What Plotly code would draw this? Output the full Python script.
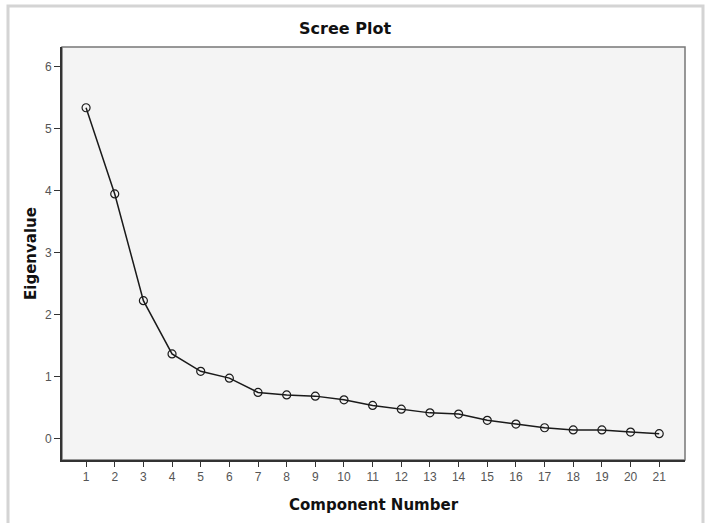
import plotly.graph_objects as go

components = list(range(1, 22))
eigenvalues = [5.34, 3.95, 2.23, 1.37, 1.09, 0.98, 0.75, 0.71, 0.69, 0.63,
               0.54, 0.48, 0.42, 0.40, 0.30, 0.24, 0.18, 0.145, 0.145, 0.11, 0.085]
y_ticks = [0, 1, 2, 3, 4, 5, 6]

FONT = "Liberation Sans, Arial, sans-serif"
BOLD = "DejaVu Sans, Verdana, sans-serif"

fig = go.Figure()
fig.add_trace(go.Scatter(
    x=components, y=eigenvalues, mode="lines+markers",
    line=dict(color="#1a1a1a", width=1.5),
    marker=dict(symbol="circle-open", size=8, color="#1a1a1a", line=dict(width=1.2)),
    showlegend=False,
))

fig.update_layout(
    width=707, height=523,
    margin=dict(l=62, r=22, t=47, b=63),
    paper_bgcolor="white",
    plot_bgcolor="#f4f4f4",
    font=dict(family=FONT, color="#333"),
    title=dict(text="<b>Scree Plot</b>", x=0.488, xanchor="center",
               y=1 - 28 / 523, yanchor="middle",
               font=dict(family=BOLD, size=16, color="#111")),
    xaxis=dict(
        range=[0.16, 21.9], tickmode="array", tickvals=components,
        ticks="outside", ticklen=5, tickcolor="#333", tickwidth=1.2,
        showgrid=False, zeroline=False,
        showline=True, linecolor="#333", linewidth=2,
        tickfont=dict(size=12, color="#555"),
        title=dict(text="<b>Component Number</b>", standoff=16,
                   font=dict(family=BOLD, size=15, color="#111")),
    ),
    yaxis=dict(
        range=[-0.34, 6.32], tickmode="array", tickvals=y_ticks,
        ticks="outside", ticklen=6, tickcolor="#333", tickwidth=1.2,
        showgrid=False, zeroline=False,
        showline=True, linecolor="#333", linewidth=2,
        tickfont=dict(size=12, color="#555"),
        title=dict(text="<b>Eigenvalue</b>", standoff=5,
                   font=dict(family=BOLD, size=15, color="#111")),
    ),
    shapes=[
        dict(type="rect", xref="paper", yref="paper", x0=0, x1=1, y0=0, y1=1,
             line=dict(color="#777", width=1.5), layer="below"),
        dict(type="rect", xref="paper", yref="paper",
             x0=(8 - 62) / 623, x1=(703 - 62) / 623,
             y0=(460 - 530) / 413, y1=(460 - 6) / 413,
             line=dict(color="#d4d4d4", width=3), layer="below"),
    ],
)

fig.write_html("out.html",
               config={"displayModeBar": False},
               post_script="document.body.style.margin='0';document.body.style.padding='0';")
